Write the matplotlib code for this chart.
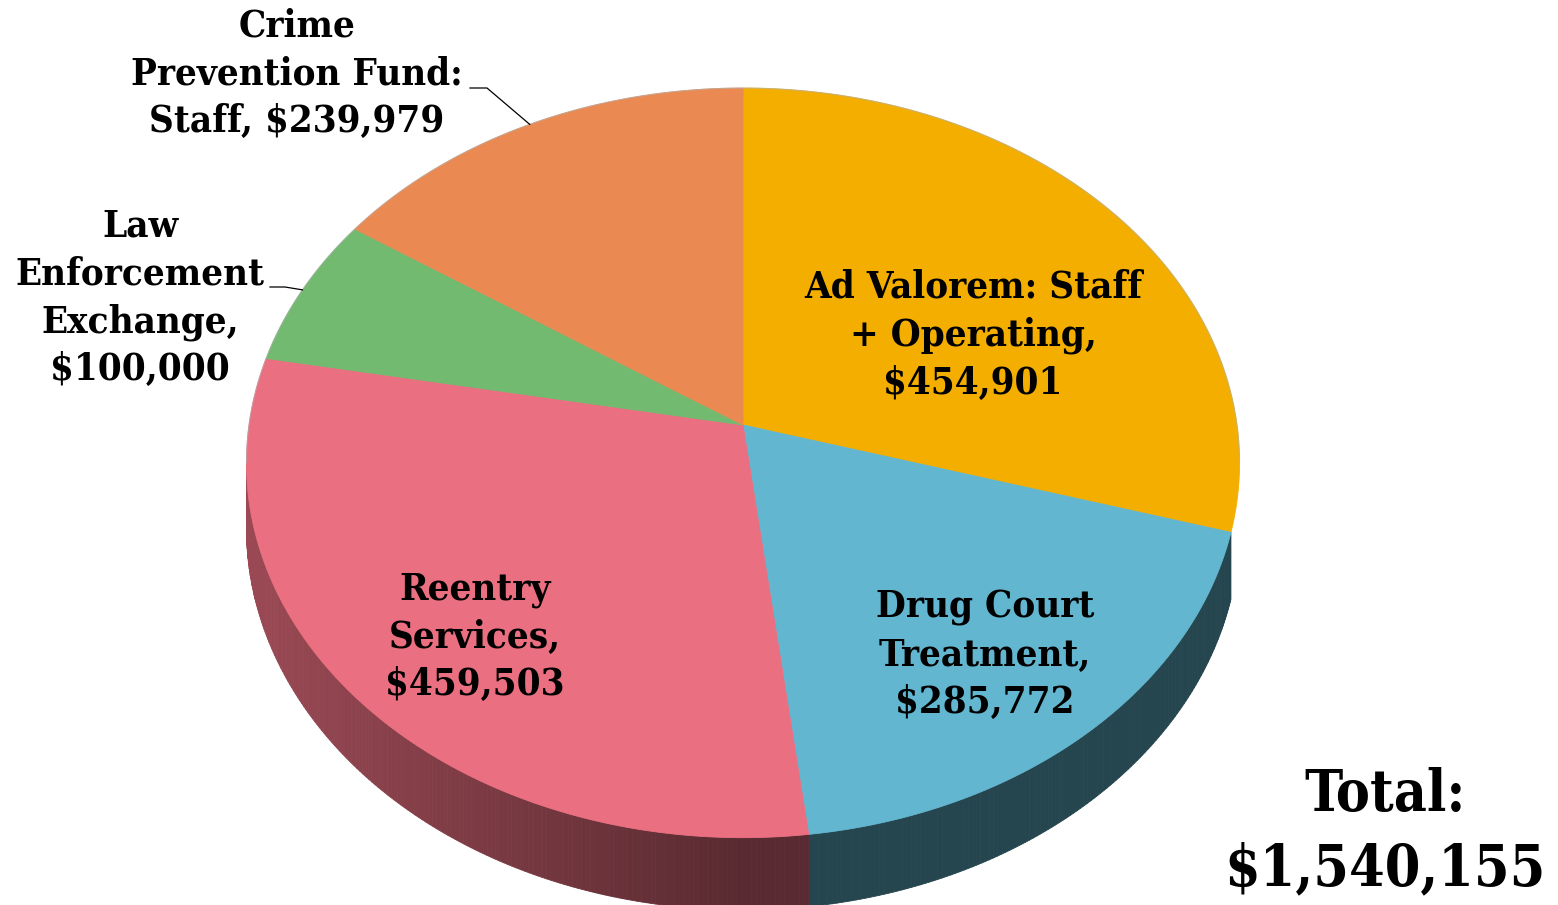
import numpy as np
import matplotlib.pyplot as plt
from matplotlib.collections import PolyCollection
from matplotlib.patches import Polygon

# data, clockwise from 12 o'clock
label_fmt = ["Ad Valorem: Staff\n+ Operating,\n${:,}",
             "Drug Court\nTreatment,\n${:,}",
             "Reentry\nServices,\n${:,}",
             "Law\nEnforcement\nExchange,\n${:,}",
             "Crime\nPrevention Fund:\nStaff, ${:,}"]
values = [454901, 285772, 459503, 100000, 239979]
colors = ["#F3AE00", "#62B6CF", "#EA6F80", "#71BA6F", "#EA8A52"]

# label centres (pixels) and leader line start for outside labels
label_pos = [(973, 335), (985, 655), (475, 637), (140, 298), (297, 74)]
leader_from = [None, None, None, [(270, 287), (285, 287)], [(470, 88), (487, 88)]]

total = sum(values)

# pie geometry in pixel space (perspective disc)
CX, CY = 743, 425      # apex of the slices
R, B, A = 494, 371, 0.101
H = 65                 # thickness


def project(theta, drop=0.0):
    t = np.radians(theta)
    u, v = np.sin(t), np.cos(t)
    w = 1 + A * v
    return CX + R * u / w, CY - B * v / w + drop / w


def shade(color, x):
    rgb = np.array(plt.matplotlib.colors.to_rgb(color))
    xr = (x - CX) / R
    f = 0.38 + 0.28 * max(0.0, -xr)
    return tuple(rgb * f)


fig = plt.figure(figsize=(15.58, 9.05), dpi=100)
ax = fig.add_axes([0, 0, 1, 1])
ax.set_xlim(0, 1558)
ax.set_ylim(905, 0)
ax.axis("off")

edges = np.concatenate([[0], np.cumsum(values)]) / total * 360
t_left = np.degrees(np.arccos(-A))
t_right = 360 - t_left

# side wall (skip tiny slivers at the silhouette)
quads, qcols = [], []
for i in range(len(values)):
    a0, a1 = max(edges[i], t_left), min(edges[i + 1], t_right)
    if a1 - a0 < 20:
        continue
    ts = np.linspace(a0, a1, max(2, int((a1 - a0) / 0.5) + 1))
    for t0, t1 in zip(ts[:-1], ts[1:]):
        p0 = project(t0)
        p1 = project(t1)
        q1 = project(t1, H)
        q0 = project(t0, H)
        quads.append([p0, p1, q1, q0])
        qcols.append(shade(colors[i], (p0[0] + p1[0]) / 2))
ax.add_collection(PolyCollection(quads, facecolors=qcols, edgecolors=qcols, linewidths=0.6))

# top face
for i in range(len(values)):
    ts = np.linspace(edges[i], edges[i + 1], 200)
    xs, ys = project(ts)
    pts = np.column_stack([np.r_[CX, xs], np.r_[CY, ys]])
    ax.add_patch(Polygon(pts, closed=True, facecolor=colors[i], edgecolor=colors[i], lw=0.6))

ts = np.linspace(t_right - 360, t_left, 400)
xs, ys = project(ts)
ax.plot(xs, ys, color="#b0b0b0", lw=0.8, alpha=0.6)

font = dict(family="DejaVu Serif", fontstretch="condensed", fontweight="bold", color="black")
for i in range(len(values)):
    ax.text(label_pos[i][0], label_pos[i][1], label_fmt[i].format(values[i]),
            ha="center", va="center", fontsize=27.5, linespacing=1.37, **font)
    if leader_from[i] is not None:
        mid = (edges[i] + edges[i + 1]) / 2
        ex, ey = project(mid)
        lx = [p[0] for p in leader_from[i]] + [ex]
        ly = [p[1] for p in leader_from[i]] + [ey]
        ax.plot(lx, ly, color="black", lw=0.9)

ax.text(1385, 832, "Total:\n${:,}".format(total), ha="center", va="center",
        fontsize=41, linespacing=1.42, **font)

fig.savefig("out.png", dpi=100)
